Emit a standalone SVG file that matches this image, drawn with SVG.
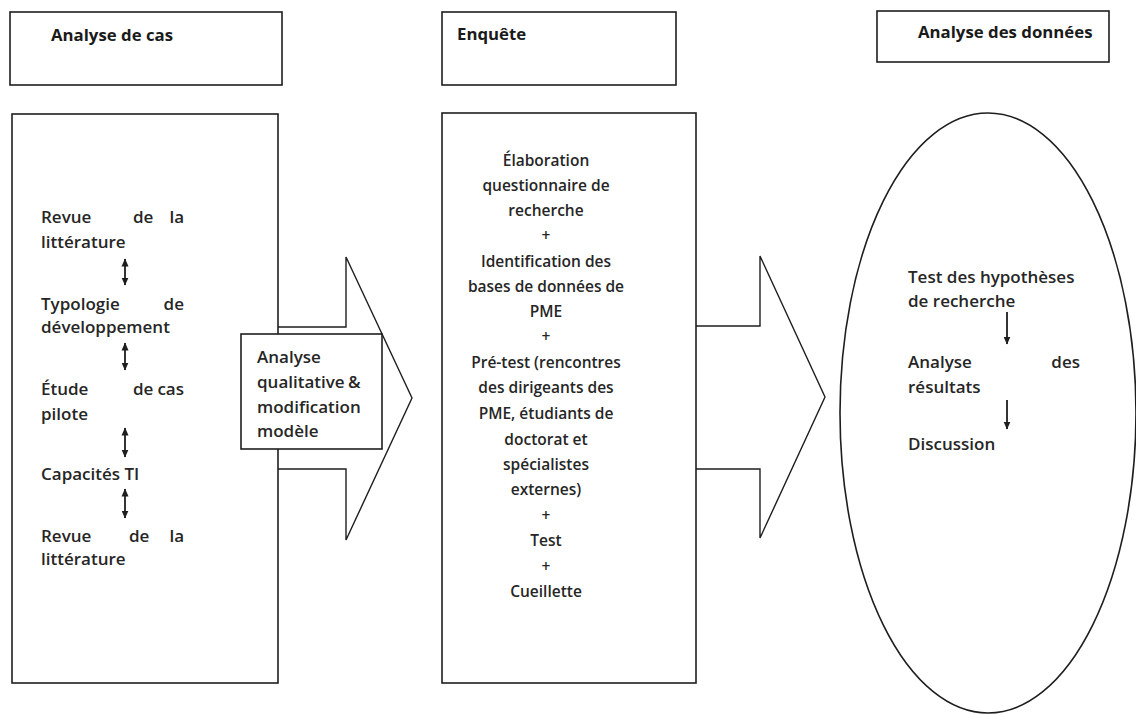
<svg xmlns="http://www.w3.org/2000/svg" width="1136" height="715" viewBox="0 0 1136 715">
  <style>
    .box { fill: #ffffff; stroke: #1e1e1e; stroke-width: 1.6; }
    .shape { fill: none; stroke: #1e1e1e; stroke-width: 1.4; stroke-linejoin: miter; }
    .head { font-family: "Open Sans", "Noto Sans", sans-serif; font-weight: bold; font-size: 16.8px; fill: #1a1a1a; }
    .txt { font-family: "Open Sans", "Noto Sans", sans-serif; font-weight: 600; font-size: 17px; fill: #262626; }
    .mid { font-family: "Open Sans", "Noto Sans", sans-serif; font-weight: 600; font-size: 15.5px; fill: #262626; text-anchor: middle; }
    .link { stroke: #1e1e1e; stroke-width: 1.8; fill: none; }
  </style>
  <defs>
    <marker id="tipEnd" markerUnits="userSpaceOnUse" markerWidth="9" markerHeight="9" refX="7.5" refY="4.5" orient="auto">
      <path d="M0,1 L8,4.5 L0,8 Z" fill="#1e1e1e"/>
    </marker>
    <marker id="tipStart" markerUnits="userSpaceOnUse" markerWidth="9" markerHeight="9" refX="1.5" refY="4.5" orient="auto">
      <path d="M9,1 L1,4.5 L9,8 Z" fill="#1e1e1e"/>
    </marker>
  </defs>
  <rect width="1136" height="715" fill="#ffffff"/>

  <!-- column headers -->
  <g id="header-cas">
    <rect class="box" x="10" y="12" width="272" height="73"/>
    <text class="head" x="51" y="41">Analyse de cas</text>
  </g>
  <g id="header-enquete">
    <rect class="box" x="442" y="12" width="234" height="73"/>
    <text class="head" x="457" y="40">Enquête</text>
  </g>
  <g id="header-donnees">
    <rect class="box" x="877" y="11" width="232" height="51"/>
    <text class="head" x="918" y="38">Analyse des données</text>
  </g>

  <!-- case analysis column -->
  <g id="cas">
    <rect class="box" x="12" y="114" width="266" height="569"/>
    <text class="txt" x="41" y="223">Revue</text>
    <text class="txt" x="133" y="223">de</text>
    <text class="txt" x="184" y="223" text-anchor="end">la</text>
    <text class="txt" x="41" y="248">littérature</text>
    <text class="txt" x="41" y="310">Typologie</text>
    <text class="txt" x="184" y="310" text-anchor="end">de</text>
    <text class="txt" x="41" y="333">développement</text>
    <text class="txt" x="41" y="395">Étude</text>
    <text class="txt" x="133" y="395">de</text>
    <text class="txt" x="184" y="395" text-anchor="end">cas</text>
    <text class="txt" x="41" y="420">pilote</text>
    <text class="txt" x="41" y="480">Capacités TI</text>
    <text class="txt" x="41" y="542">Revue</text>
    <text class="txt" x="129" y="542">de</text>
    <text class="txt" x="184" y="542" text-anchor="end">la</text>
    <text class="txt" x="41" y="565">littérature</text>
  </g>

  <!-- survey column -->
  <g id="enquete">
    <rect class="box" x="442" y="113" width="254" height="570"/>
    <text class="mid" x="546" y="166">Élaboration</text>
    <text class="mid" x="546" y="191">questionnaire de</text>
    <text class="mid" x="546" y="216">recherche</text>
    <text class="mid" x="546" y="241">+</text>
    <text class="mid" x="546" y="267">Identification des</text>
    <text class="mid" x="546" y="292">bases de données de</text>
    <text class="mid" x="546" y="317">PME</text>
    <text class="mid" x="546" y="342">+</text>
    <text class="mid" x="546" y="368">Pré-test (rencontres</text>
    <text class="mid" x="546" y="393">des dirigeants des</text>
    <text class="mid" x="546" y="419">PME, étudiants de</text>
    <text class="mid" x="546" y="445">doctorat et</text>
    <text class="mid" x="546" y="470">spécialistes</text>
    <text class="mid" x="546" y="495">externes)</text>
    <text class="mid" x="546" y="521">+</text>
    <text class="mid" x="546" y="546">Test</text>
    <text class="mid" x="546" y="572">+</text>
    <text class="mid" x="546" y="597">Cueillette</text>
  </g>

  <!-- data analysis ellipse -->
  <g id="donnees">
    <ellipse class="box" cx="988" cy="413" rx="148" ry="300"/>
    <text class="txt" x="908" y="283">Test des hypothèses</text>
    <text class="txt" x="908" y="307">de recherche</text>
    <text class="txt" x="908" y="368">Analyse</text>
    <text class="txt" x="1080" y="368" text-anchor="end">des</text>
    <text class="txt" x="908" y="393">résultats</text>
    <text class="txt" x="908" y="450">Discussion</text>
  </g>

  <!-- connectors: block arrows between columns and small flow arrows -->
  <g id="connectors">
    <polyline class="shape" points="278,327 346,327 346,257 412,398 346,540 346,469 278,469"/>
    <polyline class="shape" points="696,326 760,326 760,256 825,397 760,538 760,469 696,469"/>

    <line class="link" x1="125" y1="259" x2="125" y2="285" marker-start="url(#tipStart)" marker-end="url(#tipEnd)"/>
    <line class="link" x1="125" y1="343" x2="125" y2="370" marker-start="url(#tipStart)" marker-end="url(#tipEnd)"/>
    <line class="link" x1="125" y1="428" x2="125" y2="457" marker-start="url(#tipStart)" marker-end="url(#tipEnd)"/>
    <line class="link" x1="125" y1="489" x2="125" y2="518" marker-start="url(#tipStart)" marker-end="url(#tipEnd)"/>

    <line class="link" x1="1007" y1="312" x2="1007" y2="344" marker-end="url(#tipEnd)"/>
    <line class="link" x1="1007" y1="400" x2="1007" y2="429" marker-end="url(#tipEnd)"/>
  </g>

  <!-- label over the first block arrow -->
  <g id="analyse-qualitative">
    <rect class="box" x="241" y="334" width="141" height="115"/>
    <text class="txt" x="257" y="363">Analyse</text>
    <text class="txt" x="257" y="388">qualitative</text>
    <text class="txt" x="348" y="388">&amp;</text>
    <text class="txt" x="257" y="413">modification</text>
    <text class="txt" x="257" y="437">modèle</text>
  </g>
</svg>
